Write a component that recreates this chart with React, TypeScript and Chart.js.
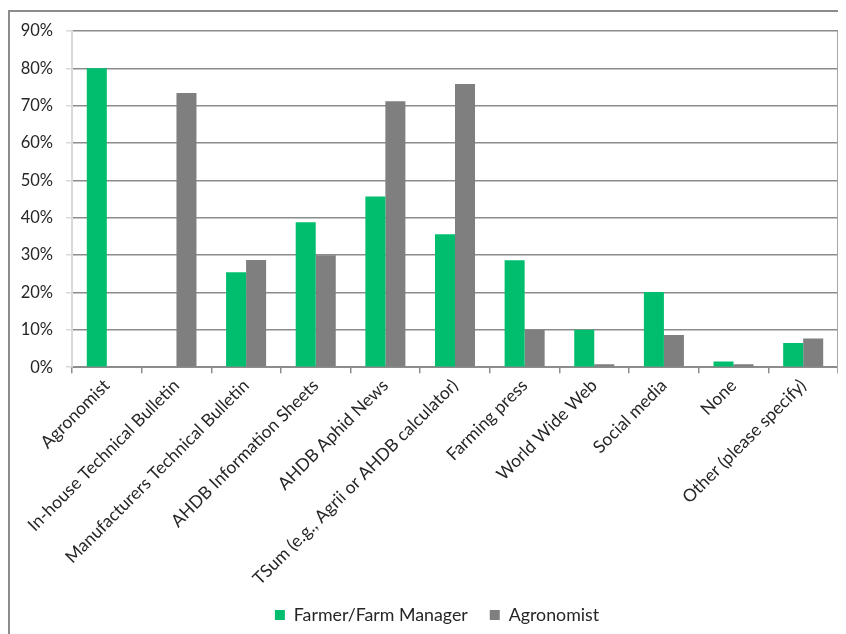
import React, { useEffect, useRef } from "react";
import { Chart, registerables } from "chart.js";

Chart.register(...registerables);

const categories = [
  "Agronomist",
  "In-house Technical Bulletin",
  "Manufacturers Technical Bulletin",
  "AHDB Information Sheets",
  "AHDB Aphid News",
  "TSum (e.g., Agrii or AHDB calculator)",
  "Farming press",
  "World Wide Web",
  "Social media",
  "None",
  "Other (please specify)",
];

const farmerValues = [80, 0, 25.4, 38.8, 45.7, 35.6, 28.6, 10, 20.1, 1.5, 6.5];
const agronomistValues = [0, 73.4, 28.7, 30, 71.2, 75.8, 10, 0.8, 8.6, 0.8, 7.7];

const seriesNames = ["Farmer/Farm Manager", "Agronomist"];
const yTicks = [0, 10, 20, 30, 40, 50, 60, 70, 80, 90];

const GREEN = "#00BE6E";
const GRAY = "#7F7F7F";
const TEXT = "#262626";
const FONT = "Lato, 'Open Sans', sans-serif";

const framePlugin = {
  id: "frameAndRightBorder",
  afterLayout(chart: any) {
    // the legend in the original sits a little right of the canvas centre
    if (chart.legend) {
      chart.legend.left += 14;
      chart.legend.right += 14;
    }
  },
  afterDraw(chart: any) {
    const { ctx, chartArea } = chart;
    ctx.save();
    // outer frame (left + top)
    ctx.strokeStyle = "#8c8c8c";
    ctx.lineWidth = 2;
    ctx.beginPath();
    ctx.moveTo(1, chart.height);
    ctx.lineTo(1, 3);
    ctx.lineTo(chart.width, 3);
    ctx.stroke();
    // right border of plot area
    ctx.strokeStyle = "#a6a6a6";
    ctx.lineWidth = 2;
    ctx.beginPath();
    ctx.moveTo(chartArea.right, chartArea.top);
    ctx.lineTo(chartArea.right, chartArea.bottom + 6);
    ctx.stroke();
    ctx.restore();
  },
};

export default function App() {
  const ref = useRef<HTMLCanvasElement | null>(null);

  useEffect(() => {
    if (!ref.current) return;
    const chart = new Chart(ref.current, {
      type: "bar",
      data: {
        labels: categories,
        datasets: [
          {
            label: seriesNames[0],
            data: farmerValues,
            backgroundColor: GREEN,
            borderWidth: 0,
          },
          {
            label: seriesNames[1],
            data: agronomistValues,
            backgroundColor: GRAY,
            borderWidth: 0,
          },
        ],
      },
      options: {
        responsive: false,
        animation: false,
        layout: { padding: { top: 23, left: 0, right: 8, bottom: 0 } },
        datasets: {
          bar: { categoryPercentage: 0.575, barPercentage: 1 },
        },
        plugins: {
          legend: {
            position: "bottom",
            labels: {
              boxWidth: 10,
              boxHeight: 10,
              padding: 22,
              color: TEXT,
              font: { family: FONT, size: 17.8 },
            },
          },
          tooltip: { enabled: false },
          title: { display: false },
        },
        scales: {
          x: {
            grid: {
              display: true,
              drawOnChartArea: false,
              drawTicks: true,
              tickLength: 6,
              color: "#8c8c8c",
              lineWidth: 1.5,
              offset: true,
            },
            border: { display: true, color: "#8c8c8c", width: 2 },
            ticks: {
              autoSkip: false,
              minRotation: 45,
              maxRotation: 45,
              color: TEXT,
              padding: 2,
              font: { family: FONT, size: 17.5 },
            },
            afterFit(scale: any) {
              scale.height = 217;
            },
          },
          y: {
            min: 0,
            max: 90,
            afterBuildTicks(scale: any) {
              scale.ticks = yTicks.map((v) => ({ value: v }));
            },
            grid: {
              color: "#8c8c8c",
              lineWidth: 1.5,
              tickColor: "#d9d9d9",
              tickLength: 6,
            },
            border: { display: true, color: "#d9d9d9", width: 2 },
            ticks: {
              color: TEXT,
              padding: 13,
              font: { family: FONT, size: 16.5 },
              callback: (v: any) => v + "%",
            },
            afterFit(scale: any) {
              scale.width = 64;
            },
          },
        },
      },
      plugins: [framePlugin],
    });
    return () => chart.destroy();
  }, []);

  return (
    <div style={{ width: 838, height: 626 }}>
      <canvas ref={ref} width={838} height={626} style={{ display: "block" }} />
    </div>
  );
}
